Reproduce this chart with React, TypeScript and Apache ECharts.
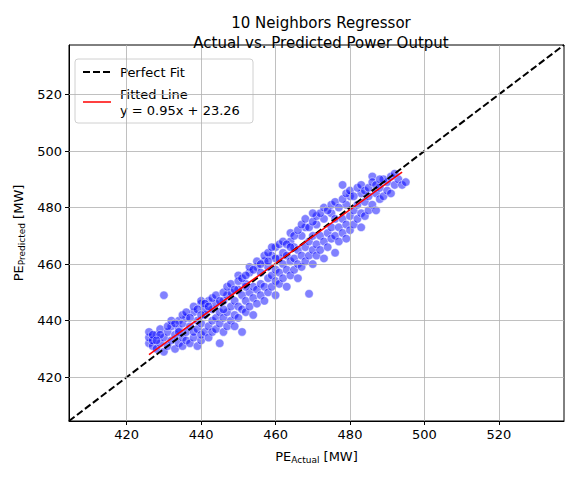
import { useEffect, useRef } from 'react'
import * as echarts from 'echarts'

const axisMin = 404.5
const axisMax = 537.5
const tickValues = [420, 440, 460, 480, 500, 520]

// actual / predicted pairs
const points: [number, number][] = [
  [426, 432], [426, 434], [426, 436], [427, 431], [427, 433], [428, 430], [428, 435], [429, 432],
  [429, 437], [430, 449], [430, 429], [430, 434], [431, 431], [431, 436], [432, 433], [432, 438],
  [433, 430], [433, 435], [434, 432], [434, 437], [434, 440], [435, 431], [435, 434], [435, 439],
  [436, 433], [436, 436], [436, 441], [437, 432], [437, 438], [438, 434], [438, 436], [438, 443],
  [439, 431], [439, 437], [439, 440], [440, 433], [440, 435], [440, 439], [440, 446], [441, 436],
  [441, 442], [441, 444], [442, 434], [442, 438], [442, 447], [443, 436], [443, 440], [443, 444],
  [444, 437], [444, 441], [444, 446], [445, 432], [445, 439], [445, 443], [446, 436], [446, 441],
  [446, 447], [447, 438], [447, 443], [447, 449], [448, 440], [448, 445], [448, 450], [449, 438],
  [449, 442], [449, 447], [450, 441], [450, 445], [450, 451], [450, 456], [451, 436], [451, 444],
  [451, 449], [452, 443], [452, 447], [452, 453], [453, 445], [453, 450], [453, 457], [454, 442],
  [454, 448], [454, 452], [455, 446], [455, 451], [455, 459], [456, 449], [456, 453], [456, 457],
  [457, 447], [457, 452], [457, 461], [458, 450], [458, 455], [458, 459], [459, 452], [459, 456],
  [459, 463], [460, 449], [460, 454], [460, 458], [460, 466], [461, 453], [461, 457], [461, 462],
  [462, 455], [462, 460], [462, 464], [463, 452], [463, 458], [463, 463], [464, 456], [464, 461],
  [464, 468], [465, 458], [465, 462], [465, 466], [466, 455], [466, 460], [466, 465], [467, 459],
  [467, 463], [467, 470], [468, 461], [468, 466], [468, 473], [469, 449.5], [469, 463], [469, 468],
  [470, 460], [470, 465], [470, 470], [471, 463], [471, 467], [471, 474], [472, 465], [472, 470],
  [473, 462], [473, 468], [473, 476], [474, 466], [474, 471], [475, 469], [475, 473], [475, 478],
  [476, 464], [476, 470], [476, 476], [477, 468], [477, 473], [478, 471], [478, 476], [478, 488],
  [479, 469], [479, 474], [479, 481], [480, 472], [480, 477], [480, 484], [481, 474], [481, 479],
  [482, 476], [482, 481], [483, 473], [483, 478], [483, 485], [484, 477], [484, 482], [485, 479],
  [485, 484], [486, 481], [486, 491], [487, 479], [487, 485], [488, 483], [488, 487], [489, 484],
  [490, 486], [490, 489], [491, 485], [492, 488], [493, 490], [494, 488], [495, 489],
]

// more points above the fitted line
const upperPoints: [number, number][] = [
  [427, 435], [429, 435], [431, 438], [432, 440], [433, 439], [435, 442], [436, 443], [437, 441],
  [438, 445], [439, 444], [440, 447], [441, 446], [442, 445], [443, 448], [444, 449], [445, 447],
  [446, 450], [447, 452], [448, 453], [449, 451], [450, 454], [451, 455], [452, 456], [453, 459],
  [454, 458], [455, 461], [456, 460], [457, 463], [458, 464], [459, 466], [460, 462], [461, 467],
  [462, 468], [463, 467], [464, 471], [465, 470], [466, 472], [467, 474], [468, 476], [469, 473],
  [470, 475], [471, 477], [472, 478], [473, 480], [474, 479], [475, 481], [476, 482], [477, 480],
  [478, 483], [479, 485], [480, 486], [481, 484], [482, 487], [483, 488], [484, 486], [485, 487],
  [486, 489], [487, 488], [489, 490], [491, 491], [492, 492], [488, 490], [470, 478], [464, 466],
  [458, 461], [452, 452], [446, 444], [440, 442], [434, 436], [428, 433],
]

const fitStart = 426
const fitEnd = 494
const fitSlope = 0.95
const fitIntercept = 23.26

export default function App() {
  const ref = useRef<HTMLDivElement>(null)

  useEffect(() => {
    if (!ref.current) return
    const chart = echarts.init(ref.current, undefined, { renderer: 'svg' })
    const font = 'DejaVu Sans'
    const gridLines = { silent: true, symbol: 'none', label: { show: false }, lineStyle: { color: '#b0b0b0', type: 'solid', width: 0.8 } }

    const axis = (name: string, isX: boolean) => ({
      type: 'value',
      min: axisMin,
      max: axisMax,
      name,
      nameLocation: 'middle',
      nameGap: isX ? 28 : 42,
      nameTextStyle: {
        color: '#000', fontFamily: font, fontSize: 13,
        rich: { s: { fontSize: 9, fontFamily: font, verticalAlign: 'bottom', padding: [6, 0, 0, 0] } },
      },
      axisLine: { show: true, onZero: false, lineStyle: { color: '#000', width: 1 } },
      axisTick: { show: true, customValues: tickValues, length: 4, inside: false, lineStyle: { color: '#000' } },
      axisLabel: { customValues: tickValues, color: '#000', fontFamily: font, fontSize: 13, margin: 7 },
      splitLine: { show: false },
    })

    const scatterStyle = { color: 'rgba(0,0,255,0.62)', borderColor: '#fff', borderWidth: 0.6 }

    chart.setOption({
      animation: false,
      backgroundColor: '#fff',
      title: {
        text: '10 Neighbors Regressor\nActual vs. Predicted Power Output',
        left: 316, top: 8, textAlign: 'center',
        textStyle: { fontFamily: font, fontSize: 15, fontWeight: 'normal', color: '#000', lineHeight: 20 },
      },
      grid: { left: 69, right: 10, top: 45, bottom: 57, show: true, borderColor: '#000', borderWidth: 1 },
      xAxis: axis('{a|PE}{s|Actual}{a| [MW]}', true),
      yAxis: axis('{a|PE}{s|Predicted}{a| [MW]}', false),
      series: [
        {
          type: 'line', data: [], silent: true,
          markLine: { ...gridLines, data: tickValues.flatMap((v) => [{ xAxis: v }, { yAxis: v }]) },
        },
        { type: 'scatter', data: points, symbolSize: 8.5, itemStyle: scatterStyle },
        { type: 'scatter', data: upperPoints, symbolSize: 8.5, itemStyle: scatterStyle },
        {
          type: 'line', data: [[axisMin, axisMin], [axisMax, axisMax]], showSymbol: false,
          lineStyle: { color: '#000', type: [7, 3], width: 2 },
        },
        {
          type: 'line',
          data: [[fitStart, fitSlope * fitStart + fitIntercept], [fitEnd, fitSlope * fitEnd + fitIntercept]],
          showSymbol: false, lineStyle: { color: '#ff0000', width: 1.5 },
        },
      ],
      graphic: [
        { type: 'rect', shape: { x: 75, y: 59, width: 178, height: 64, r: 3 }, style: { fill: 'rgba(255,255,255,0.85)', stroke: '#d0d0d0', lineWidth: 1 } },
        { type: 'line', shape: { x1: 83, y1: 72, x2: 111, y2: 72 }, style: { stroke: '#000', lineWidth: 2, lineDash: [7, 3] } },
        { type: 'text', x: 120, y: 72, style: { text: 'Perfect Fit', fontFamily: font, fontSize: 13, fill: '#000', verticalAlign: 'middle' } },
        { type: 'line', shape: { x1: 83, y1: 102, x2: 111, y2: 102 }, style: { stroke: '#ff0000', lineWidth: 1.5 } },
        { type: 'text', x: 120, y: 102, style: { text: 'Fitted Line\ny = 0.95x + 23.26', fontFamily: font, fontSize: 13, lineHeight: 16, fill: '#000', verticalAlign: 'middle' } },
      ],
    })
    return () => chart.dispose()
  }, [])

  return <div ref={ref} style={{ position: 'absolute', left: 0, top: 0, width: 574, height: 478 }} />
}
